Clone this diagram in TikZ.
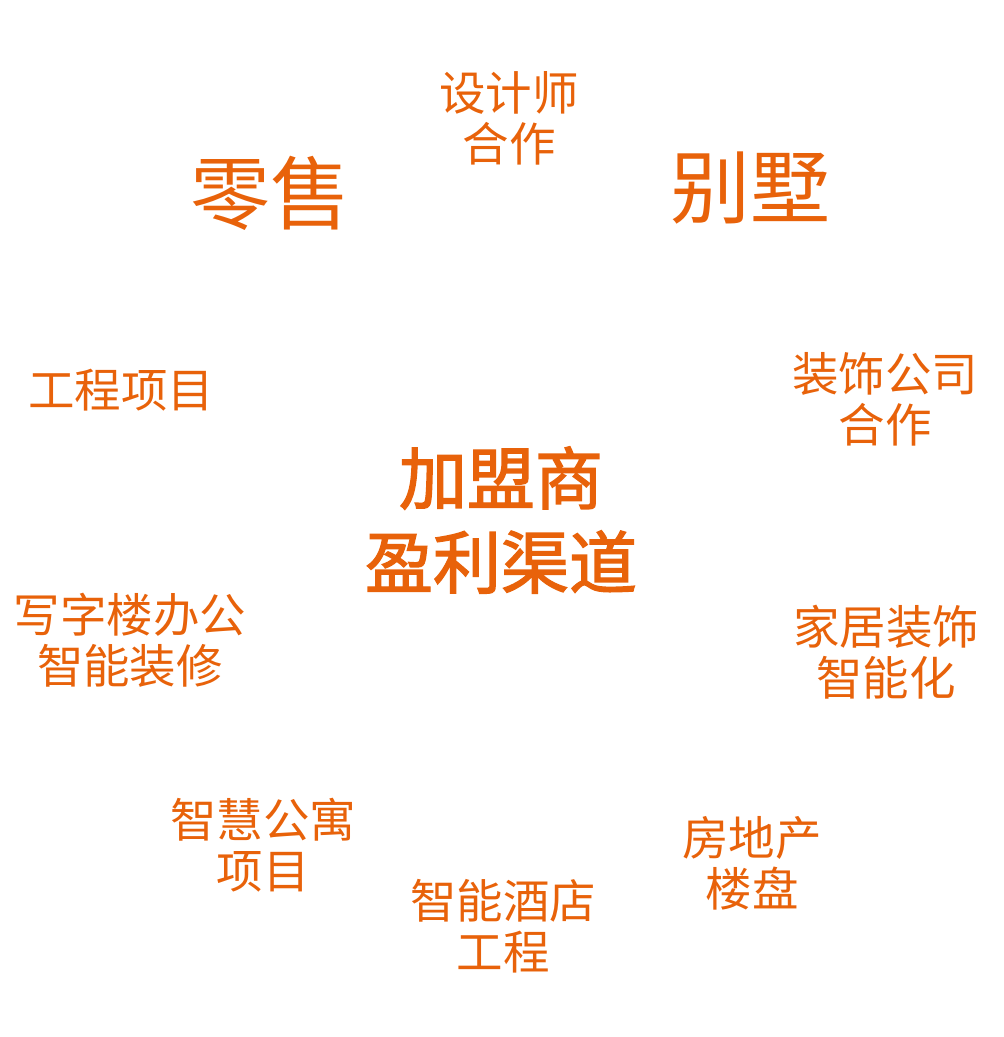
\documentclass[tikz,border=0pt]{standalone}
\usepackage{fontspec}
\newfontfamily\cjk{Noto Sans CJK SC}
\newfontfamily\cjkm[FakeBold=2]{Noto Sans CJK SC}
\definecolor{orng}{RGB}{232,98,10}
\begin{document}
\begin{tikzpicture}[x=1pt,y=-1pt,
  lbl/.style={text=orng,font=\cjk\fontsize{46.5}{51}\selectfont,align=center,inner sep=0pt},
  big/.style={text=orng,font=\cjk\fontsize{80}{84}\selectfont,align=center,inner sep=0pt},
  ctr/.style={text=orng,font=\cjkm\fontsize{68}{84}\selectfont,align=center,inner sep=0pt}]
\useasboundingbox (0,0) rectangle (1004,1037);
\node[ctr] (c) at (501,520) {加盟商\\盈利渠道};
\node[lbl] (a1) at (509,118) {设计师\\合作};
\node[big] (a2) at (270,193) {零售};
\node[big] (a3) at (750,188) {别墅};
\node[lbl] (a4) at (121,390) {工程项目};
\node[lbl] (a5) at (885,399) {装饰公司\\合作};
\node[lbl] (a6) at (130,640) {写字楼办公\\智能装修};
\node[lbl] (a7) at (886,652) {家居装饰\\智能化};
\node[lbl] (a8) at (263,845) {智慧公寓\\项目};
\node[lbl] (a9) at (752,863) {房地产\\楼盘};
\node[lbl] (a10) at (503,926) {智能酒店\\工程};
\end{tikzpicture}
\end{document}
